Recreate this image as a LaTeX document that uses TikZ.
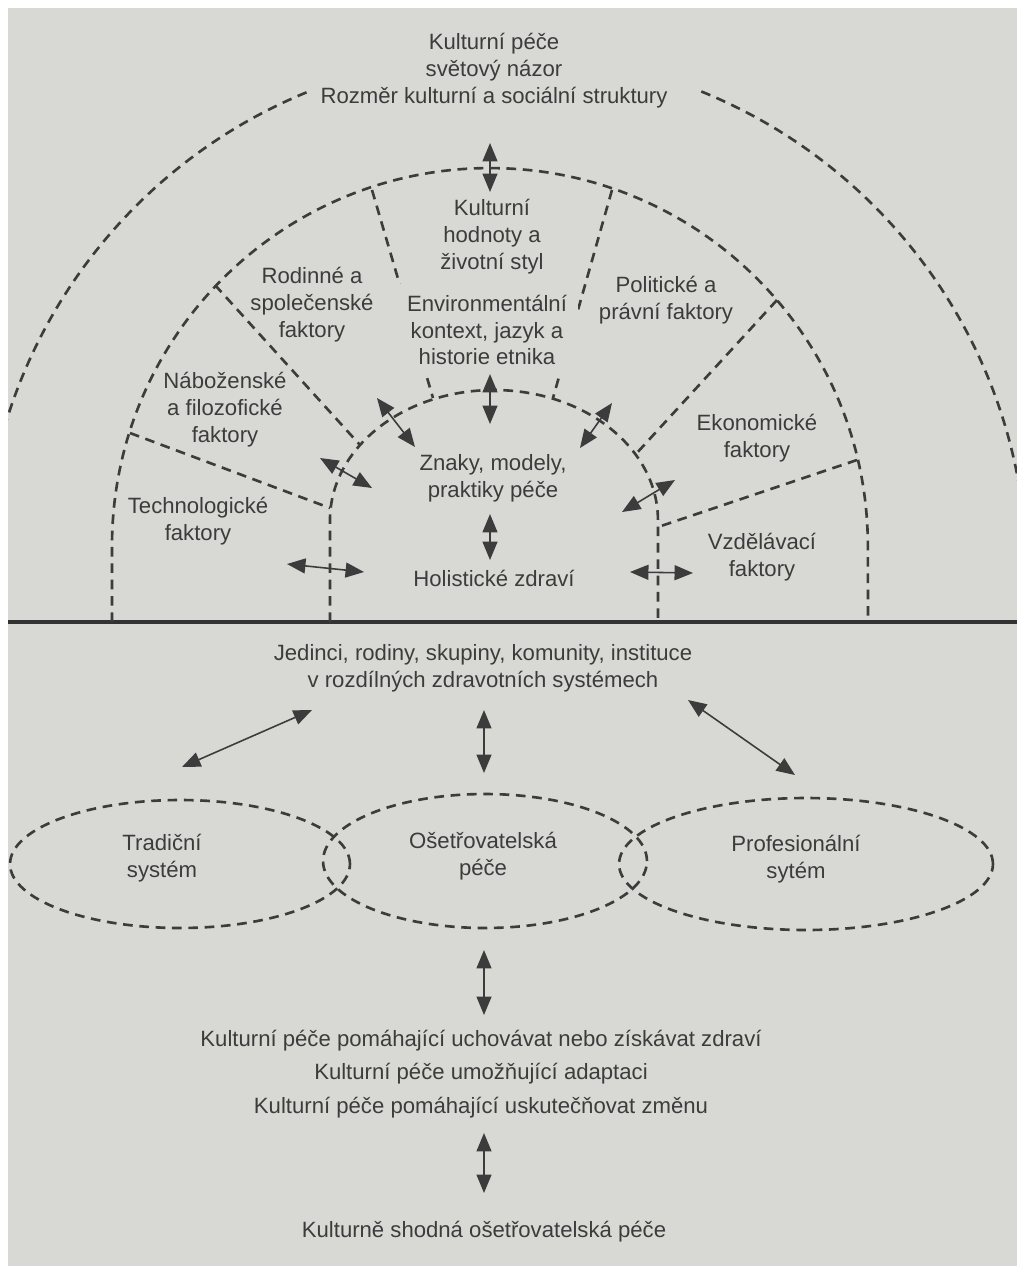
\documentclass[tikz,border=0pt]{standalone}
\usepackage{fontspec}
\setmainfont{Liberation Sans}
\usetikzlibrary{arrows.meta,calc}
\definecolor{bg}{RGB}{216,216,213}
\definecolor{ink}{RGB}{60,60,60}
\begin{document}
\begin{tikzpicture}[x=0.02cm,y=-0.02cm,
  lbl/.style={text=ink,align=center,font=\fontsize{12.6}{15.3}\selectfont,inner sep=0pt},
  dline/.style={draw=ink,line width=1.5pt,dash pattern=on 5.5pt off 3.8pt},
  biarrow/.style={draw=ink,line width=0.9pt,{Triangle[length=10.5pt,width=8.5pt]}-{Triangle[length=10.5pt,width=8.5pt]}}]
\useasboundingbox (0,0) rectangle (1017,1272);
\fill[white] (0,0) rectangle (1017,1272);
\fill[bg] (8,8) rectangle (1017,1266);

% horizon line
\coordinate (hl) at (8,622);
\coordinate (hr) at (1017,622);
\draw[ink!85!black,line width=2.8pt] (hl) -- (hr);

% outer arc
\coordinate (oc) at (505,575);
\begin{scope}
\clip (8,8) rectangle (1017,622);
\draw[dline] ($(oc)+(185.17:10.44cm)$) arc[start angle=185.17,end angle=111.7,radius=10.44cm];
\draw[dline] ($(oc)+(67.9:10.44cm)$) arc[start angle=67.9,end angle=-5.17,radius=10.44cm];
\end{scope}

% middle and inner arcs
\draw[dline] (112,622) -- (112,546) arc[start angle=180,end angle=0,radius=7.56cm] -- (868,622);
\draw[dline] (330,622) -- (330,520) arc[start angle=180,end angle=0,x radius=3.28cm,y radius=2.6cm] -- (658,622);

% radial separators
\coordinate (r1a) at (372,190); \coordinate (r1b) at (433,398);
\coordinate (r2a) at (612,190); \coordinate (r2b) at (553,398);
\coordinate (r3a) at (215,285); \coordinate (r3b) at (360,445);
\coordinate (r4a) at (130,433); \coordinate (r4b) at (330,508);
\coordinate (r5a) at (777,300); \coordinate (r5b) at (635,455);
\coordinate (r6a) at (857,460); \coordinate (r6b) at (658,527);
\foreach \r in {1,...,6} {\draw[dline] (r\r a) -- (r\r b);}

% texts (upper)
\node[lbl,fill=bg,inner sep=6pt] (env) at (487,330) {Environmentální\\kontext, jazyk a\\historie etnika};
\node[lbl] (top) at (494,71) {Kulturní péče\\světový názor\\Rozměr kulturní a sociální struktury};
\node[lbl] (val) at (492,237) {Kulturní\\hodnoty a\\životní styl};
\node[lbl] (fam) at (312,305) {Rodinné a\\společenské\\faktory};
\node[lbl] (pol) at (666,300) {Politické a\\právní faktory};
\node[lbl] (rel) at (225,410) {Náboženské\\a filozofické\\faktory};
\node[lbl] (eco) at (757,438) {Ekonomické\\faktory};
\node[lbl] (care) at (493,478) {Znaky, modely,\\praktiky péče};
\node[lbl] (tech) at (198,521) {Technologické\\faktory};
\node[lbl] (edu) at (762,557) {Vzdělávací\\faktory};
\node[lbl] (hol) at (494,578) {Holistické zdraví};

% arrows (upper)
\coordinate (a1a) at (490,143); \coordinate (a1b) at (490,192);
\coordinate (a2a) at (490,374); \coordinate (a2b) at (490,424);
\coordinate (a3a) at (490,514); \coordinate (a3b) at (490,560);
\coordinate (a4a) at (377,398); \coordinate (a4b) at (415,447);
\coordinate (a5a) at (320,458); \coordinate (a5b) at (372,488);
\coordinate (a6a) at (287,564); \coordinate (a6b) at (364,572);
\coordinate (a7a) at (612,403); \coordinate (a7b) at (580,448);
\coordinate (a8a) at (675,480); \coordinate (a8b) at (622,512);
\coordinate (a9a) at (630,572); \coordinate (a9b) at (693,573);
\foreach \a in {1,...,9} {\draw[biarrow] (a\a a) -- (a\a b);}

% lower part
\node[lbl] (who) at (483,668) {Jedinci, rodiny, skupiny, komunity, instituce\\v rozdílných zdravotních systémech};

\draw[dline] (180,864) ellipse[x radius=3.4cm,y radius=1.28cm];
\draw[dline] (485,861) ellipse[x radius=3.24cm,y radius=1.34cm];
\draw[dline] (806,864) ellipse[x radius=3.74cm,y radius=1.32cm];

\node[lbl] (trad) at (162,858) {Tradiční\\systém};
\node[lbl] (nurs) at (483,856) {Ošetřovatelská\\péče};
\node[lbl] (prof) at (796,859) {Profesionální\\sytém};

\coordinate (b1a) at (182,767); \coordinate (b1b) at (312,710);
\coordinate (b2a) at (484,710); \coordinate (b2b) at (484,773);
\coordinate (b3a) at (688,700); \coordinate (b3b) at (795,775);
\coordinate (b4a) at (484,950); \coordinate (b4b) at (484,1015);
\coordinate (b5a) at (484,1133); \coordinate (b5b) at (484,1193);
\foreach \b in {1,...,5} {\draw[biarrow] (b\b a) -- (b\b b);}

\node[lbl] (d1) at (481,1041) {Kulturní péče pomáhající uchovávat nebo získávat zdraví};
\node[lbl] (d2) at (481,1074) {Kulturní péče umožňující adaptaci};
\node[lbl] (d3) at (481,1108) {Kulturní péče pomáhající uskutečňovat změnu};
\node[lbl] (res) at (484,1232) {Kulturně shodná ošetřovatelská péče};
\end{tikzpicture}
\end{document}
